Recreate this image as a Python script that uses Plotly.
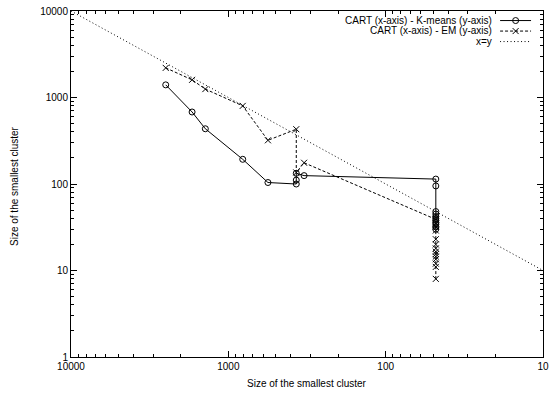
import plotly.graph_objects as go

# ---- data ----
KMEANS_X = [2500, 1700, 1400, 810, 560, 370, 370, 370, 330,
            48, 48, 48, 48, 48, 48, 48, 48, 48, 48, 48]
KMEANS_Y = [1400, 680, 435, 193, 104, 100, 111, 133, 125,
            114, 95, 48, 45, 42, 40, 38, 36, 34, 32, 30]

EM_X = [2500, 1700, 1400, 810, 560, 370, 370, 330,
        48, 48, 48, 48, 48, 48, 48, 48, 48, 48, 48, 48, 48, 48]
EM_Y = [2200, 1600, 1250, 800, 320, 430, 136, 176,
        39, 35, 32, 29, 23, 20, 18, 16.5, 15.5, 14.5, 13.5, 12, 11, 8]

XY_LINE = [10000, 10]

TICK_VALUES_X = [10000, 1000, 100, 10]
TICK_LABELS_X = ["10000", "1000", "100", "10"]
TICK_VALUES_Y = [1, 10, 100, 1000, 10000]
TICK_LABELS_Y = ["1", "10", "100", "1000", "10000"]

SERIES_NAMES = ["CART (x-axis) - K-means (y-axis)",
                "CART (x-axis) - EM (y-axis)",
                "x=y"]
AXIS_TITLE = "Size of the smallest cluster"

FONT = "Liberation Sans, Arial, Helvetica, sans-serif"
BLACK = "#000000"
PLOT_W, PLOT_H = 472, 346  # plot area in px

fig = go.Figure()

fig.add_trace(go.Scatter(
    x=KMEANS_X, y=KMEANS_Y, mode="lines+markers", showlegend=False,
    line=dict(color=BLACK, width=1),
    marker=dict(symbol="circle-open", size=6, color=BLACK, line=dict(width=1))))

fig.add_trace(go.Scatter(
    x=EM_X, y=EM_Y, mode="lines+markers", showlegend=False,
    line=dict(color=BLACK, width=1, dash="3px,2px"),
    marker=dict(symbol="x-thin-open", size=6, color=BLACK, line=dict(width=1, color=BLACK))))

fig.add_trace(go.Scatter(
    x=XY_LINE, y=XY_LINE, mode="lines", showlegend=False,
    line=dict(color=BLACK, width=1, dash="1px,2.5px")))

# ---- gnuplot-style key (text left of sample) on an auxiliary axis ----
ROWS = [0.83, 0.5, 0.17]
ROW_PX = [20.5, 31, 41.5]
legend_styles = [
    dict(line=dict(color=BLACK, width=1), symbol="circle-open"),
    dict(line=dict(color=BLACK, width=1, dash="3px,2px"), symbol="x-thin-open"),
    dict(line=dict(color=BLACK, width=1, dash="1px,2.5px"), symbol=None),
]
for row, rpx, st, name in zip(ROWS, ROW_PX, legend_styles, SERIES_NAMES):
    fig.add_trace(go.Scatter(x=[0, 1], y=[row, row], mode="lines", line=st["line"],
                             xaxis="x2", yaxis="y2", showlegend=False, hoverinfo="skip"))
    if st["symbol"]:
        fig.add_trace(go.Scatter(x=[0.5], y=[row], mode="markers",
                                 marker=dict(symbol=st["symbol"], size=6, color=BLACK,
                                             line=dict(width=1, color=BLACK)),
                                 xaxis="x2", yaxis="y2", showlegend=False, hoverinfo="skip"))
    fig.add_annotation(x=(494 - 71) / PLOT_W, y=1 - (rpx - 11) / PLOT_H,
                       xref="paper", yref="paper", text=name, showarrow=False,
                       xanchor="right", yanchor="middle",
                       font=dict(family=FONT, size=10, color=BLACK))

# axis titles as annotations for exact placement
fig.add_annotation(x=(307 - 71) / PLOT_W, y=-(383 - 357) / PLOT_H, xref="paper", yref="paper",
                   text=AXIS_TITLE, showarrow=False, xanchor="center", yanchor="middle",
                   font=dict(family=FONT, size=10, color=BLACK))
fig.add_annotation(x=(14 - 71) / PLOT_W, y=1 - (186 - 11) / PLOT_H, xref="paper", yref="paper",
                   text=AXIS_TITLE, showarrow=False, xanchor="center", yanchor="middle",
                   textangle=-90, font=dict(family=FONT, size=10, color=BLACK))

axis_common = dict(
    type="log", showline=True, mirror="ticks", linecolor=BLACK, linewidth=1,
    ticks="inside", ticklen=6, tickcolor=BLACK, tickwidth=1,
    showgrid=False, zeroline=False, automargin=False,
    tickfont=dict(family=FONT, size=10, color=BLACK),
    minor=dict(ticks="inside", ticklen=3, tickcolor=BLACK, tickwidth=1,
               dtick="D1", showgrid=False),
)

fig.update_layout(
    width=550, height=398,
    margin=dict(l=71, r=7, t=11, b=41, autoexpand=False),
    paper_bgcolor="white", plot_bgcolor="white",
    font=dict(family=FONT, size=10, color=BLACK),
    hovermode=False,
    xaxis=dict(axis_common, range=[4, 1], autorange=False,
               tickvals=TICK_VALUES_X, ticktext=TICK_LABELS_X),
    yaxis=dict(axis_common, range=[0, 4], autorange=False,
               tickvals=TICK_VALUES_Y, ticktext=TICK_LABELS_Y),
    xaxis2=dict(domain=[0.909, 0.975], range=[0, 1], visible=False,
                anchor="y2", fixedrange=True, automargin=False),
    yaxis2=dict(domain=[0.896, 0.988], range=[0, 1], visible=False,
                anchor="x2", fixedrange=True, automargin=False),
)

fig.write_html(
    "out.html",
    config={"displayModeBar": False, "staticPlot": True},
    post_script="document.body.style.margin='0';document.body.style.overflow='hidden';",
)
